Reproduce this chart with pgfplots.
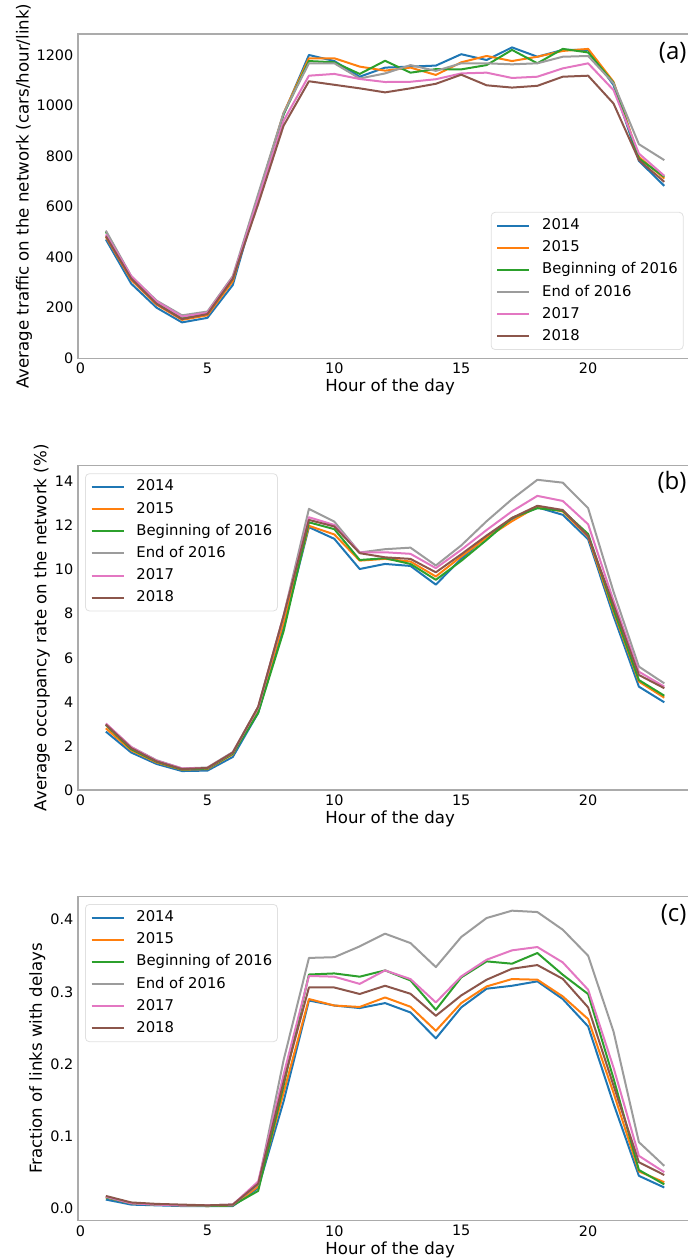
\documentclass[border=0pt]{standalone}
\usepackage{fontspec}
\setmainfont{DejaVu Sans}
\newfontfamily\labfont{Open Sans}
\usepackage{pgfplots}
\usepackage{pgfplotstable}
\pgfplotsset{compat=1.18}

\definecolor{c14}{HTML}{1F77B4}
\definecolor{c15}{HTML}{FF7F0E}
\definecolor{cb16}{HTML}{2CA02C}
\definecolor{ce16}{HTML}{9C9C9C}
\definecolor{c17}{HTML}{E377C2}
\definecolor{c18}{HTML}{8C564B}

% hourly averages, one column per period
\pgfplotstableread{
h  a    b    c    d    e    f
1  470  480  500  505  490  483
2  295  310  320  325  325  315
3  200  212  220  228  225  215
4  142  152  160  170  165  155
5  160  170  178  185  180  175
6  290  305  315  325  320  315
7  640  640  640  650  630  610
8  965  970  965  970  940  920
9  1200 1187 1176 1167 1118 1096
10 1176 1187 1171 1167 1125 1082
11 1114 1154 1125 1107 1105 1068
12 1150 1138 1177 1127 1093 1052
13 1154 1150 1130 1160 1094 1068
14 1158 1121 1144 1137 1104 1086
15 1203 1171 1143 1167 1127 1122
16 1180 1196 1160 1167 1130 1080
17 1230 1176 1220 1163 1109 1071
18 1193 1193 1167 1167 1114 1078
19 1220 1216 1224 1193 1147 1114
20 1220 1224 1210 1196 1167 1118
21 1081 1094 1090 1088 1061 1008
22 781  797  790  847  810  784
23 682  711  718  784  722  698
}\traffic

\pgfplotstableread{
h  a     b     c     d     e     f
1  2.65  2.8   2.95  3.0   3.02  2.97
2  1.7   1.8   1.85  1.95  1.95  1.9
3  1.18  1.25  1.28  1.35  1.33  1.3
4  0.86  0.92  0.93  0.98  0.98  0.95
5  0.88  0.95  0.97  1.02  1.0   1.0
6  1.5   1.62  1.65  1.72  1.7   1.7
7  3.5   3.7   3.5   3.75  3.75  3.78
8  7.4   7.6   7.2   7.9   7.9   7.9
9  11.93 11.99 12.15 12.76 12.38 12.26
10 11.4  11.6  11.84 12.18 12.03 11.96
11 10.03 10.41 10.44 10.78 10.78 10.75
12 10.26 10.49 10.52 10.93 10.79 10.56
13 10.17 10.37 10.26 11.0  10.72 10.49
14 9.32  9.69  9.54  10.19 10.07 9.88
15 10.5  10.6  10.4  11.1  10.9  10.7
16 11.5  11.45 11.35 12.2  11.8  11.55
17 12.3  12.2  12.35 13.2  12.65 12.35
18 12.83 12.87 12.79 14.08 13.35 12.9
19 12.49 12.64 12.67 13.95 13.12 12.71
20 11.38 11.5  11.62 12.79 12.06 11.53
21 7.9   8.1   8.2   9.0   8.6   8.4
22 4.69  4.92  4.99  5.6   5.37  5.22
23 3.98  4.19  4.28  4.84  4.69  4.62
}\occupancy

\pgfplotstableread{
h  a      b      c      d      e      f
1  0.012  0.015  0.015  0.016  0.016  0.017
2  0.005  0.007  0.007  0.007  0.007  0.008
3  0.004  0.005  0.005  0.005  0.005  0.006
4  0.003  0.004  0.004  0.004  0.004  0.005
5  0.003  0.003  0.003  0.004  0.004  0.004
6  0.003  0.004  0.004  0.005  0.005  0.005
7  0.028  0.030  0.024  0.033  0.037  0.034
8  0.148  0.160  0.170  0.205  0.185  0.175
9  0.288  0.290  0.324  0.347  0.322  0.306
10 0.281  0.281  0.3255 0.348  0.321  0.306
11 0.2775 0.279  0.321  0.363  0.311  0.297
12 0.2844 0.2922 0.3297 0.3806 0.3297 0.3084
13 0.2714 0.2793 0.3158 0.3676 0.3177 0.2973
14 0.2354 0.246  0.2751 0.3343 0.2853 0.2668
15 0.2784 0.2844 0.32   0.376  0.3214 0.295
16 0.3043 0.3075 0.3422 0.4023 0.3445 0.3168
17 0.3084 0.3177 0.339  0.4125 0.3575 0.332
18 0.3145 0.3168 0.3538 0.4106 0.3621 0.3371
19 0.29   0.2936 0.3237 0.3861 0.3408 0.318
20 0.252  0.2622 0.2969 0.35   0.3029 0.2784
21 0.145  0.16   0.18   0.245  0.195  0.17
22 0.0449 0.051  0.053  0.0916 0.0726 0.0638
23 0.0287 0.036  0.033  0.0587 0.05   0.046
}\delays

\tikzset{tag/.style={anchor=east, inner sep=0pt, font=\labfont\fontsize{12}{14}\selectfont}}

\pgfplotsset{
  panel/.style n args={2}{
    at={(38.98pt,#1)}, anchor=south west,
    scale only axis, width=312.2pt, height=162.15pt,
    xmin=-0.1, xmax=24.5, xtick={0,5,10,15,20},
    axis line style={draw=black!33, line width=0.6pt},
    major tick length=0pt, tick style={draw=none},
    /pgf/number format/assume math mode=true,
    /pgf/number format/1000 sep={},
    scaled ticks=false,
    tick label style={font=\fontsize{7.2}{8}\selectfont},
    xticklabel style={inner ysep=2.2pt},
    yticklabel style={inner xsep=2.15pt},
    label style={font=\fontsize{8.3}{10}\selectfont},
    xlabel={Hour of the day},
    xlabel style={at={(axis description cs:0.5,0)}, anchor=base, yshift=-16.75pt},
    ylabel style={at={(axis description cs:#2,0.5)}, anchor=center},
    every axis plot/.append style={line width=1pt, line join=round},
    legend cell align=left,
    legend image code/.code={\draw[##1] (0pt,0pt) -- (16pt,0pt);},
    legend style={
      font=\fontsize{7.4}{8}\selectfont,
      draw=black!12, fill=white, rounded corners=2pt,
      inner xsep=2.65pt, inner ysep=3.15pt,
      row sep=4.07pt, column sep=5.85pt,
      nodes={inner sep=0pt, text height=5.5pt, text depth=1.5pt},
    },
  },
}

\begin{document}
\begin{tikzpicture}
\useasboundingbox (0,0) rectangle (344pt,629.5pt);

% (a) traffic
\begin{axis}[panel={450.35pt}{-0.0864},
    ymin=0, ymax=1283, ytick={0,200,400,600,800,1000,1200},
    ylabel={Average traffic on the network (cars/hour/link)},
    legend style={at={(0.6611,0.0256)}, anchor=south west}]
\addplot[c14]  table[x=h,y=a] {\traffic};
\addplot[c15]  table[x=h,y=b] {\traffic};
\addplot[cb16] table[x=h,y=c] {\traffic};
\addplot[ce16] table[x=h,y=d] {\traffic};
\addplot[c17]  table[x=h,y=e] {\traffic};
\addplot[c18]  table[x=h,y=f] {\traffic};
\legend{2014,2015,Beginning of 2016,End of 2016,2017,2018}
\node[tag] at (axis description cs:0.9752,0.9414) {(a)};
\end{axis}

% (b) occupancy
\begin{axis}[panel={234.5pt}{-0.0581},
    ymin=0, ymax=14.72, ytick={0,2,4,6,8,10,12,14},
    ylabel={Average occupancy rate on the network (\%)},
    legend style={at={(0.0113,0.9766)}, anchor=north west}]
\addplot[c14]  table[x=h,y=a] {\occupancy};
\addplot[c15]  table[x=h,y=b] {\occupancy};
\addplot[cb16] table[x=h,y=c] {\occupancy};
\addplot[ce16] table[x=h,y=d] {\occupancy};
\addplot[c17]  table[x=h,y=e] {\occupancy};
\addplot[c18]  table[x=h,y=f] {\occupancy};
\legend{2014,2015,Beginning of 2016,End of 2016,2017,2018}
\node[tag] at (axis description cs:0.9752,0.948) {(b)};
\end{axis}

% (c) delays
\begin{axis}[panel={19.15pt}{-0.0651},
    ymin=-0.0173, ymax=0.4323, ytick={0,0.1,0.2,0.3,0.4},
    yticklabels={0.0,0.1,0.2,0.3,0.4},
    ylabel={Fraction of links with delays},
    legend style={at={(0.0113,0.9765)}, anchor=north west}]
\addplot[c14]  table[x=h,y=a] {\delays};
\addplot[c15]  table[x=h,y=b] {\delays};
\addplot[cb16] table[x=h,y=c] {\delays};
\addplot[ce16] table[x=h,y=d] {\delays};
\addplot[c17]  table[x=h,y=e] {\delays};
\addplot[c18]  table[x=h,y=f] {\delays};
\legend{2014,2015,Beginning of 2016,End of 2016,2017,2018}
\node[tag] at (axis description cs:0.9752,0.9435) {(c)};
\end{axis}
\end{tikzpicture}
\end{document}
